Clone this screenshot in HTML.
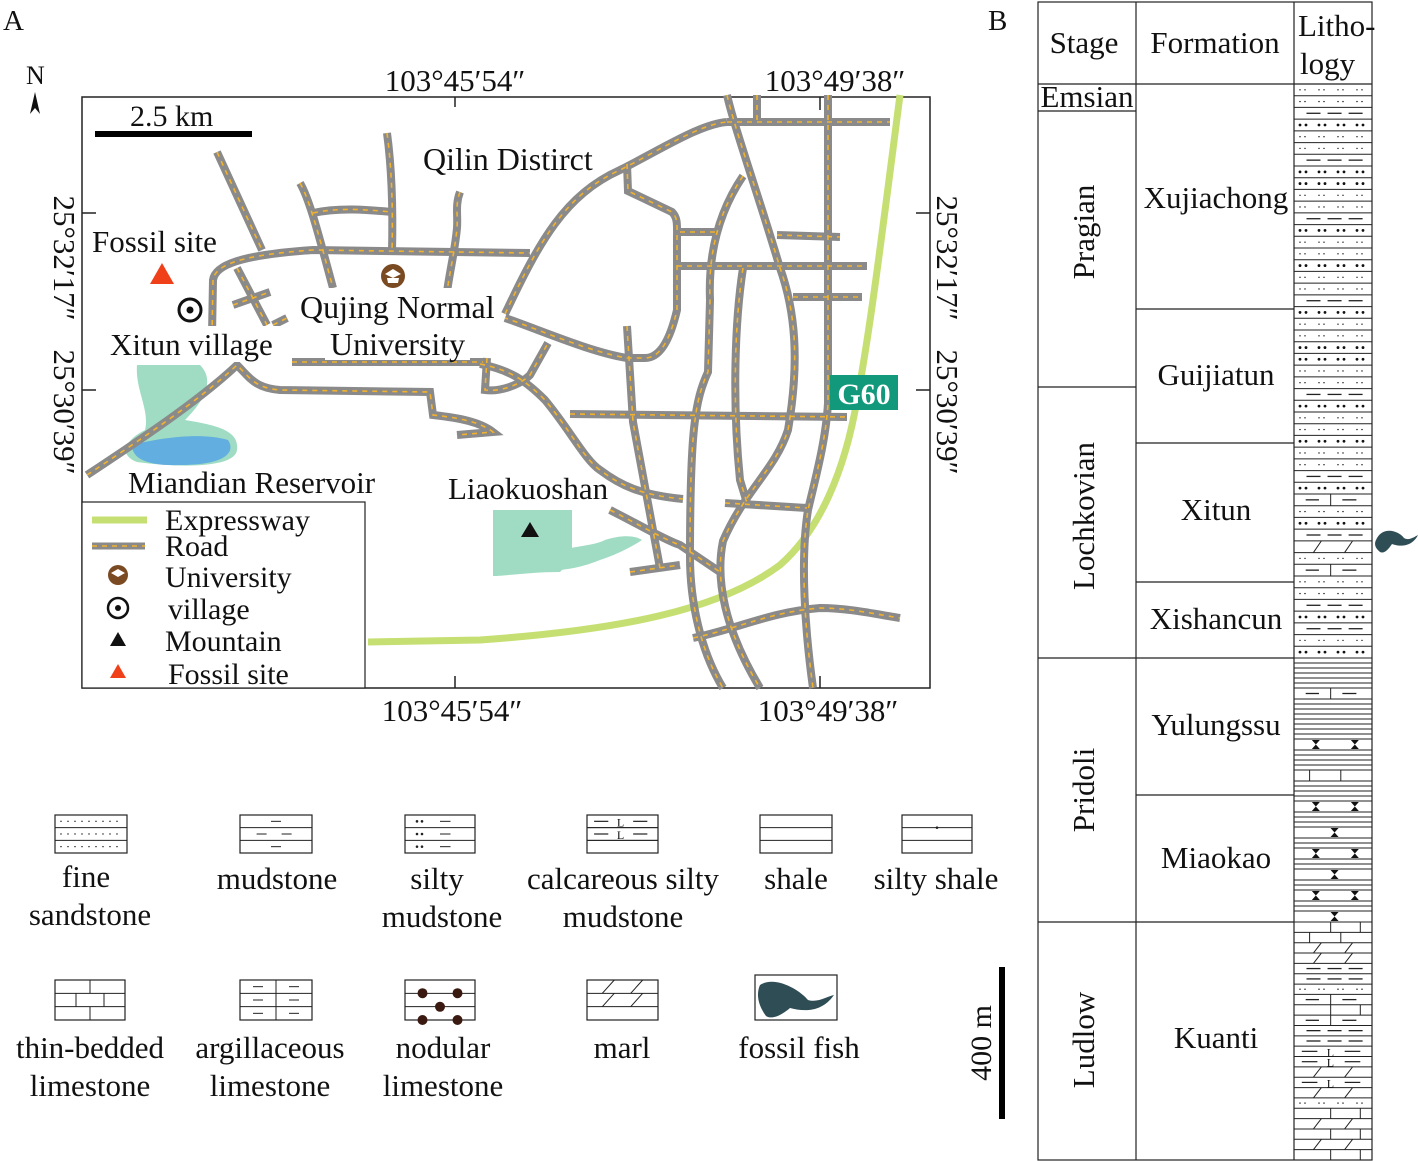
<!DOCTYPE html>
<html><head><meta charset="utf-8"><style>
html,body{margin:0;padding:0;background:#fff}
svg{display:block}
text{font-family:"Liberation Serif",serif;fill:#111}
</style></head><body>
<svg id="s" width="1418" height="1161" viewBox="0 0 1418 1161" xmlns="http://www.w3.org/2000/svg">
<defs>
<g id="roads" fill="none">
<path d="M727,122 L890,122"/>
<path d="M505,314 C540,240 565,195 620,170 C660,150 700,124 727,122"/>
<path d="M627,164 L628,191 L672,212 C678,218 677,225 677,240 L677,310 C670,340 660,358 645,358 L627,358 C590,352 540,330 505,318"/>
<path d="M680,232 L717,232"/><path d="M677,266 L867,266"/><path d="M793,297 L862,297"/><path d="M777,235 L840,237"/>
<path d="M828,95 L828,403 C826,440 815,480 808,510 C800,560 805,630 813,688"/>
<path d="M727,95 C735,130 760,200 780,268 C795,310 800,360 788,430 C775,470 745,490 723,541 C715,580 725,630 760,688"/>
<path d="M743,176 C720,210 708,250 710,300 L708,372 C695,400 690,430 690,557 C690,600 700,650 723,688"/>
<path d="M743,268 C735,320 732,400 740,480 L747,503"/>
<path d="M627,326 L633,422 L660,568"/>
<path d="M570,414 L847,417"/>
<path d="M480,364 C510,370 525,380 545,400 C570,430 585,460 600,470 C620,485 640,495 683,499"/>
<path d="M610,510 C640,525 665,540 680,545 L720,572"/>
<path d="M630,572 L680,565"/><path d="M725,503 L807,508"/>
<path d="M693,638 C740,628 770,612 820,608 C850,608 880,615 900,618"/>
<path d="M757,95 L757,120"/>
<path d="M212,335 L213,280 C215,265 240,255 313,250 L530,253"/>
<path d="M217,152 L262,250"/><path d="M300,183 C310,200 320,240 333,288"/><path d="M387,133 C392,170 393,210 392,252"/>
<path d="M460,192 C455,205 458,215 457,228 C455,250 450,270 447,292"/>
<path d="M313,213 C340,207 370,210 392,212"/>
<path d="M237,268 L267,325"/><path d="M233,305 L270,292"/><path d="M273,325 L287,318"/>
<path d="M292,362 L483,362"/>
<path d="M87,475 C140,440 200,400 237,365 C250,378 255,388 280,390 L430,392 L433,415 C460,418 480,422 493,432 L457,435"/>
<path d="M487,358 L485,390 C500,392 520,385 530,375 L548,343"/>
</g>
</defs>
<text x="3" y="30" font-size="29">A</text>
<text x="988" y="30" font-size="29">B</text>
<text x="26" y="84" font-size="26">N</text>
<path d="M35,92 L30,114 L35,108 L40,114 Z" fill="#111"/>
<rect x="82" y="97" width="848" height="591" fill="#fff" stroke="#222" stroke-width="1.5"/>
<path d="M137,365 L200,365 C215,380 205,400 185,420 C215,425 240,430 237,450 C235,468 180,468 137,462 C118,455 125,440 145,430 C150,410 135,390 137,365Z" fill="#9fdcc3"/>
<path d="M132,445 C160,438 200,432 228,440 C236,452 226,465 180,465 C150,466 132,460 132,445Z" fill="#62aee0"/>
<path d="M493,510 L572,510 L572,560 L560,572 C530,572 505,576 493,576Z" fill="#9fdcc3"/>
<path d="M538,560 C560,545 590,548 605,540 C620,535 635,535 642,540 C630,548 615,555 600,560 C580,568 560,572 538,570Z" fill="#9fdcc3"/>
<path d="M900,95 C880,250 870,330 857,400 C845,470 820,530 780,565 C720,610 620,630 480,640 L368,642" fill="none" stroke="#c6df72" stroke-width="7"/>
<use href="#roads" stroke="#8a8a8a" stroke-width="8"/>
<use href="#roads" stroke="#f2b22e" stroke-width="1.6" stroke-dasharray="5 5"/>
<rect x="830" y="375" width="68" height="35" fill="#12987a"/>
<text x="864" y="404" font-size="30" font-weight="bold" text-anchor="middle" style="fill:#fff">G60</text>
<rect x="297" y="288" width="200" height="36" fill="#fff"/><rect x="325" y="326" width="145" height="34" fill="#fff"/><rect x="108" y="326" width="180" height="36" fill="#fff"/>
<rect x="95" y="131" width="157" height="6" fill="#000"/>
<text x="130" y="126" font-size="30">2.5 km</text>
<text x="423" y="170" font-size="32">Qilin Distirct</text>
<text x="92" y="252" font-size="31">Fossil site</text>
<path d="M162,263 L174,284 L150,284Z" fill="#f0401a"/>
<circle cx="190" cy="310" r="11" fill="none" stroke="#111" stroke-width="3"/><circle cx="190" cy="310" r="3.5" fill="#111"/>
<text x="110" y="355" font-size="31">Xitun village</text>
<circle cx="393" cy="276" r="12" fill="#7a4a22"/><path d="M385,274 L393,269 L401,274 L393,278Z M387,278 L399,278 L398,283 L388,283Z" fill="#fff"/>
<text x="300" y="318" font-size="32">Qujing Normal</text>
<text x="330" y="355" font-size="32">University</text>
<text x="128" y="493" font-size="31">Miandian Reservoir</text>
<text x="448" y="499" font-size="31">Liaokuoshan</text>
<path d="M530,522 L539,537 L521,537Z" fill="#111"/>
<path d="M455,97 V107 M820,97 V110 M455,688 V676 M820,688 V676 M82,213 H96 M82,390 H96 M930,213 H916 M930,390 H916" stroke="#222" stroke-width="1.5"/>
<text x="455" y="91" font-size="31" text-anchor="middle">103°45′54″</text>
<text x="835" y="91" font-size="31" text-anchor="middle">103°49′38″</text>
<text x="452" y="721" font-size="31" text-anchor="middle">103°45′54″</text>
<text x="828" y="721" font-size="31" text-anchor="middle">103°49′38″</text>
<text font-size="31" text-anchor="middle" transform="translate(54,258) rotate(90)">25°32′17″</text>
<text font-size="31" text-anchor="middle" transform="translate(54,412) rotate(90)">25°30′39″</text>
<text font-size="31" text-anchor="middle" transform="translate(937,258) rotate(90)">25°32′17″</text>
<text font-size="31" text-anchor="middle" transform="translate(937,412) rotate(90)">25°30′39″</text>
<rect x="82" y="502" width="283" height="186" fill="#fff" stroke="#222" stroke-width="1.2"/>
<line x1="92" y1="520" x2="147" y2="520" stroke="#c6df72" stroke-width="7"/>
<line x1="92" y1="546" x2="145" y2="546" stroke="#8a8a8a" stroke-width="7"/><line x1="92" y1="546" x2="145" y2="546" stroke="#f2b22e" stroke-width="1.5" stroke-dasharray="5 5"/>
<circle cx="118" cy="575" r="10" fill="#7a4a22"/><path d="M111,573 L118,569 L125,573 L118,577Z" fill="#fff"/>
<circle cx="118" cy="608" r="10" fill="none" stroke="#111" stroke-width="2.5"/><circle cx="118" cy="608" r="3" fill="#111"/>
<path d="M118,632 L126,646 L110,646Z" fill="#111"/>
<path d="M118,664 L126,678 L110,678Z" fill="#f0401a"/>
<g font-size="30"><text x="165" y="530">Expressway</text><text x="165" y="556">Road</text><text x="165" y="587">University</text><text x="168" y="619">village</text><text x="165" y="651">Mountain</text><text x="168" y="684">Fossil site</text></g>
<g id="leg" stroke="#222" stroke-width="1.2" fill="none"></g>
<g font-size="31" text-anchor="middle">
<text x="86" y="887">fine</text><text x="90" y="925">sandstone</text>
<text x="277" y="889">mudstone</text>
<text x="437" y="889">silty</text><text x="442" y="927">mudstone</text>
<text x="623" y="889">calcareous silty</text><text x="623" y="927">mudstone</text>
<text x="796" y="889">shale</text><text x="936" y="889">silty shale</text>
<text x="90" y="1058">thin-bedded</text><text x="90" y="1096">limestone</text>
<text x="270" y="1058">argillaceous</text><text x="270" y="1096">limestone</text>
<text x="443" y="1058">nodular</text><text x="443" y="1096">limestone</text>
<text x="622" y="1058">marl</text><text x="799" y="1058">fossil fish</text>
</g>
<rect x="999" y="967" width="6" height="152" fill="#000"/>
<text font-size="30" text-anchor="middle" transform="translate(991,1043) rotate(-90)">400 m</text>
<g stroke="#222" stroke-width="1.2" fill="none">
<rect x="1038" y="2" width="334" height="1158"/>
<path d="M1136,2 V1160 M1294,2 V1160 M1038,84 H1372 M1038,111 H1136 M1038,387 H1136 M1038,658 H1294 M1038,922 H1294 M1136,309 H1294 M1136,443 H1294 M1136,582 H1294 M1136,795 H1294"/>
</g>
<g font-size="31">
<text x="1084" y="53" text-anchor="middle">Stage</text>
<text x="1215" y="53" text-anchor="middle">Formation</text>
<text x="1298" y="36">Litho-</text><text x="1300" y="74">logy</text>
<text x="1087" y="107" text-anchor="middle">Emsian</text>
<text x="1216" y="208" text-anchor="middle">Xujiachong</text>
<text x="1216" y="385" text-anchor="middle">Guijiatun</text>
<text x="1216" y="520" text-anchor="middle">Xitun</text>
<text x="1216" y="629" text-anchor="middle">Xishancun</text>
<text x="1216" y="735" text-anchor="middle">Yulungssu</text>
<text x="1216" y="868" text-anchor="middle">Miaokao</text>
<text x="1216" y="1048" text-anchor="middle">Kuanti</text>
<text text-anchor="middle" transform="translate(1094,232) rotate(-90)">Pragian</text>
<text text-anchor="middle" transform="translate(1094,516) rotate(-90)">Lochkovian</text>
<text text-anchor="middle" transform="translate(1094,790) rotate(-90)">Pridoli</text>
<text text-anchor="middle" transform="translate(1094,1040) rotate(-90)">Ludlow</text>
</g>
<g id="lith" stroke="#222" stroke-width="1" fill="none"></g>
<path d="M1376,540 C1382,526 1398,530 1404,538 C1409,541 1414,537 1418,535 C1412,547 1400,547 1392,544 C1388,550 1384,554 1380,552 C1375,548 1374,544 1376,540Z" fill="#2f4d55"/>
<path d="M760,985 C775,975 800,990 808,1000 C818,1003 828,996 834,995 C822,1012 805,1012 790,1008 C782,1015 772,1020 766,1016 C758,1005 756,994 760,985Z" fill="#2f4d55"/>
</svg>
<script>
const NS="http://www.w3.org/2000/svg";
function el(g,t,a){const e=document.createElementNS(NS,t);for(const k in a)e.setAttribute(k,a[k]);g.appendChild(e);return e;}
function L(g,x1,y1,x2,y2,w){el(g,'line',{x1,y1,x2,y2,'stroke-width':w||1});}
function dots(g,x0,x1,y,big){const r=big?1.4:0.7;for(let x=x0+6;x<x1-3;x+=19){el(g,'circle',{cx:x,cy:y,r,fill:'#111',stroke:'none'});el(g,'circle',{cx:x+(big?6:5),cy:y,r,fill:'#111',stroke:'none'});}}
function dashes(g,x0,x1,y){const w=x1-x0;for(let i=0;i<3;i++){const c=x0+w*(0.25+i*0.27);L(g,c-7,y,c+7,y,1.3);}}
function bowtie(g,x,y0,y1){el(g,'path',{d:`M${x-4},${y0} L${x+4},${y0} L${x},${(y0+y1)/2} Z M${x-4},${y1} L${x+4},${y1} L${x},${(y0+y1)/2} Z`,fill:'#111',stroke:'none'});}
function row(g,t,x0,x1,y0,y1,off){const yc=(y0+y1)/2,w=x1-x0;L(g,x0,y1,x1,y1);
 if(t=='s')dots(g,x0,x1,yc,false);
 else if(t=='d')dots(g,x0,x1,yc,true);
 else if(t=='m')dashes(g,x0,x1,yc);
 else if(t=='b'){const a=x0+w*(off?0.2:0.47),b=x0+w*(off?0.6:0.85);L(g,a,y0,a,y1);L(g,b,y0,b,y1);}
 else if(t=='a'){const a=x0+w*0.47;L(g,a,y0,a,y1);L(g,x0+w*0.15,yc,x0+w*0.32,yc,1.3);L(g,x0+w*0.62,yc,x0+w*0.8,yc,1.3);}
 else if(t=='k'){for(const f of [0.3,0.7]){const c=x0+w*f;L(g,c-4,y1,c+4,y0);}}
 else if(t=='n'){bowtie(g,x0+w*0.28,y0+1,y1-1);bowtie(g,x0+w*0.78,y0+1,y1-1);}
 else if(t=='o'){bowtie(g,x0+w*0.52,y0+1,y1-1);}
 else if(t=='c'){L(g,x0+w*0.1,yc,x0+w*0.3,yc,1.2);el(g,'text',{x:x0+w*0.42,y:yc+5,'font-size':12,stroke:'none'}).textContent='L';L(g,x0+w*0.65,yc,x0+w*0.85,yc,1.2);}
}
const g=document.getElementById('lith');const X0=1294,X1=1372;
let seq="ssmdssmddssmdssdssmdssddssmdssdssmdasdmksassmdmsd";
let h=(658-84)/seq.length;for(let i=0;i<seq.length;i++)row(g,seq[i],X0,X1,84+i*h,84+(i+1)*h,i%2);
const special={690:'a',737:'n',772:'b',800:'n',828:'o',846:'n',869:'o',888:'n',913:'o'};
let y=658;while(y<922){let t=null;for(const k in special){if(Math.abs(y-k)<3){t=special[k];}}
 if(t){row(g,t,X0,X1,y,y+11,1);y+=11;}else{L(g,X0,y+5,X1,y+5);y+=5;}}
seq="bbkkmmsabammcckcksbkbkb";h=(1160-922)/seq.length;
for(let i=0;i<seq.length;i++)row(g,seq[i],X0,X1,922+i*h,922+(i+1)*h,i%2);
const lg=document.getElementById('leg');
function box(x,y,w,hh,t){el(lg,'rect',{x,y,width:w,height:hh});const n=3;for(let i=1;i<n;i++)L(lg,x,y+hh*i/n,x+w,y+hh*i/n);
 for(let i=0;i<n;i++){const y0=y+hh*i/n,y1=y+hh*(i+1)/n;const yc=(y0+y1)/2;
  if(t=='s'){for(let xx=x+6;xx<x+w-3;xx+=7)el(lg,'circle',{cx:xx,cy:yc,r:0.7,fill:'#111',stroke:'none'});}
  if(t=='m'){const c=x+w*(i==1?0.3:0.5);L(lg,c-5,yc,c+5,yc);if(i==1)L(lg,c+20,yc,c+30,yc);}
  if(t=='sm'){L(lg,x+w*0.5,yc,x+w*0.65,yc);el(lg,'circle',{cx:x+12,cy:yc,r:0.7,fill:'#111'});el(lg,'circle',{cx:x+17,cy:yc,r:0.7,fill:'#111'});}
  if(t=='cs'&&i<2)row(lg,'c',x,x+w,y0,y1);
  if(t=='ss'&&i==1){el(lg,'circle',{cx:x+w/2,cy:y0,r:0.7,fill:'#111'});}
  if(t=='b'){const a=x+w*(i%2?0.3:0.5);L(lg,a,y0,a,y1);if(i%2)L(lg,x+w*0.7,y0,x+w*0.7,y1);}
  if(t=='a'){const a=x+w*0.5;L(lg,a,y0,a,y1);L(lg,x+w*0.25-5,yc,x+w*0.25+5,yc);L(lg,x+w*0.75-5,yc,x+w*0.75+5,yc);}
  if(t=='k'&&i<2){for(const f of [0.3,0.7]){const c=x+w*f;L(lg,c-6,y1,c+6,y0);}}
 }
 if(t=='n'){for(const [fx,fy] of [[0.25,0.33],[0.75,0.33],[0.5,0.67],[0.25,1],[0.75,1]]){el(lg,'circle',{cx:x+w*fx,cy:y+hh*fy,r:5,fill:'#3a1a10',stroke:'none'});}}
}
box(55,815,72,38,'s');box(240,815,72,38,'m');box(405,815,70,38,'sm');box(587,815,71,38,'cs');box(760,815,72,38,'sh');box(902,815,70,38,'ss');
box(55,980,70,40,'b');box(240,980,72,40,'a');box(405,980,70,40,'n');box(587,980,71,40,'k');
el(lg,'rect',{x:755,y:975,width:82,height:45});
</script>
</body></html>
